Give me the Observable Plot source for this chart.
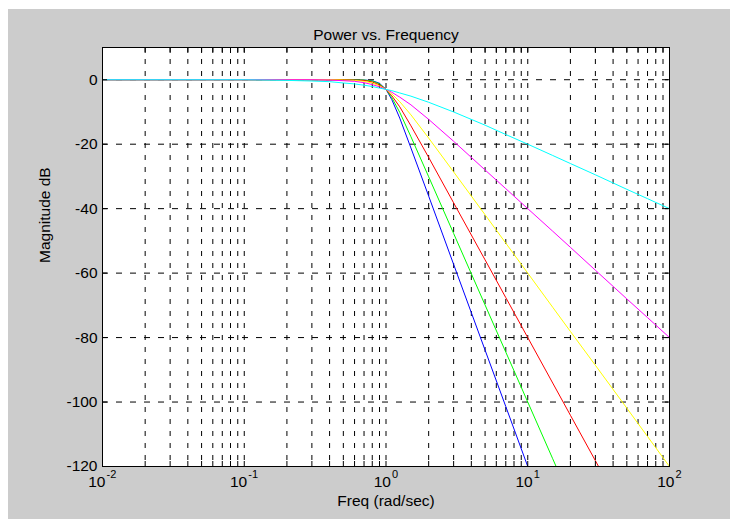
<!DOCTYPE html>
<html><head><meta charset="utf-8">
<script src="https://cdn.jsdelivr.net/npm/d3@7"></script>
<script src="https://cdn.jsdelivr.net/npm/@observablehq/plot@0.6"></script>
<style>
html,body{margin:0;padding:0;background:#fff;width:730px;height:519px;overflow:hidden}
#chart{position:absolute;left:8px;top:9px;}
</style></head><body><div id="chart"></div>
<script>
const titleText = "Power vs. Frequency";
const xLabel = "Freq (rad/sec)";
const yLabel = "Magnitude dB";

// frequency samples (rad/sec)
const freq = [0.01, 0.1, 0.2, 0.3, 0.4, 0.5, 0.6, 0.7, 0.8, 0.9, 1, 1.1, 1.25, 1.5, 2, 3, 5, 7, 10, 15, 20, 30, 50, 70, 100];
// magnitude (dB) read for each curve
const cyanDb    = [0, 0, -0.2, -0.4, -0.6, -1.0, -1.3, -1.7, -2.1, -2.6, -3.0, -3.4, -4.1, -5.1, -7.0, -10.0, -14.1, -17.0, -20.0, -23.5, -26.0, -29.5, -34.0, -36.9, -40.0];
const magentaDb = [0, 0, 0, 0, -0.1, -0.3, -0.5, -0.9, -1.5, -2.2, -3.0, -3.9, -5.4, -7.8, -12.3, -19.1, -28.0, -33.8, -40.0, -47.0, -52.0, -59.1, -68.0, -73.8, -80.0];
const yellowDb  = [0, 0, 0, 0, 0, -0.1, -0.2, -0.5, -1.0, -1.9, -3.0, -4.4, -6.8, -10.9, -18.1, -28.6, -41.9, -50.7, -60.0, -70.6, -78.1, -88.6, -101.9, -110.7, -120.0];
const redDb     = [0, 0, 0, 0, 0, 0, -0.1, -0.2, -0.7, -1.6, -3.0, -5.0, -8.4, -14.3, -24.1, -38.2, -55.9, -67.6, -80.0, -94.1, -104.1, -118.2, -135.9, null, null];
const greenDb   = [0, 0, 0, 0, 0, 0, 0, -0.1, -0.4, -1.3, -3.0, -5.6, -10.1, -17.7, -30.1, -47.7, -69.9, -84.5, -100.0, -117.6, -130.1, null, null, null, null];
const blueDb    = [0, 0, 0, 0, 0, 0, 0, -0.1, -0.3, -1.1, -3.0, -6.2, -11.9, -21.2, -36.1, -57.3, -83.9, -101.4, -120.0, null, null, null, null, null, null];

const seriesNames = ["order 6", "order 5", "order 4", "order 3", "order 2", "order 1"];
const seriesColors = ["#0000ff", "#00ff00", "#ff0000", "#ffff00", "#ff00ff", "#00ffff"];
const seriesValues = [blueDb, greenDb, redDb, yellowDb, magentaDb, cyanDb];

const majorTicks = [0.01, 0.1, 1, 10, 100];
const majorExponents = ["-2", "-1", "0", "1", "2"];
const minorTicks = [0.02, 0.03, 0.04, 0.05, 0.06, 0.07, 0.08, 0.09,
                    0.2, 0.3, 0.4, 0.5, 0.6, 0.7, 0.8, 0.9,
                    2, 3, 4, 5, 6, 7, 8, 9,
                    20, 30, 40, 50, 60, 70, 80, 90];
const yTicks = [-120, -100, -80, -60, -40, -20, 0];

const rows = [];
seriesNames.forEach((s, k) => {
  seriesValues[k].forEach((v, i) => { if (v !== null) rows.push({s, f: freq[i], db: v}); });
});
const allXTicks = majorTicks.concat(minorTicks);
const majorLabels = majorTicks.map((v, i) => ({v, e: majorExponents[i]}));
const neg = d => d.e.startsWith("-");
const pos = d => !d.e.startsWith("-");

const chart = Plot.plot({
  width: 722, height: 510,
  marginLeft: 94, marginRight: 61, marginTop: 38, marginBottom: 53,
  style: {background: "#cccccc", fontFamily: "'Liberation Sans', Arial, sans-serif", fontSize: "15.5px", color: "#000"},
  x: {type: "log", domain: [0.01, 100]},
  y: {domain: [-120, 10]},
  color: {type: "ordinal", domain: seriesNames, range: seriesColors},
  marks: [
    Plot.frame({fill: "white", stroke: "none"}),
    Plot.gridX(allXTicks, {stroke: "#000", strokeOpacity: 1, strokeDasharray: "5,7"}),
    Plot.gridY(yTicks, {stroke: "#000", strokeOpacity: 1, strokeDasharray: "6,8"}),
    Plot.line(rows, {x: "f", y: "db", z: "s", stroke: "s", strokeWidth: 1, clip: true}),
    Plot.axisX({ticks: allXTicks, anchor: "bottom", tickSize: -5, tickFormat: () => "", label: null}),
    Plot.axisX({ticks: allXTicks, anchor: "top", tickSize: -5, tickFormat: () => "", label: null}),
    Plot.axisY({ticks: yTicks, anchor: "right", tickSize: -5, tickFormat: () => "", label: null}),
    Plot.axisY({ticks: yTicks, anchor: "left", tickSize: -5, tickFormat: () => "", label: null}),
    Plot.axisY({ticks: yTicks, anchor: "left", tickSize: 0, tickPadding: 5, tickFormat: d => String(d), label: null}),
    Plot.frame({stroke: "#000", strokeWidth: 1}),
    Plot.text(majorLabels, {x: "v", text: () => "10", filter: neg, frameAnchor: "bottom", textAnchor: "end", dx: 3, dy: 20}),
    Plot.text(majorLabels, {x: "v", text: "e", filter: neg, frameAnchor: "bottom", textAnchor: "start", dx: 4, dy: 11, fontSize: 11}),
    Plot.text(majorLabels, {x: "v", text: () => "10", filter: pos, frameAnchor: "bottom", textAnchor: "end", dx: 5, dy: 20}),
    Plot.text(majorLabels, {x: "v", text: "e", filter: pos, frameAnchor: "bottom", textAnchor: "start", dx: 6, dy: 11, fontSize: 11}),
    Plot.text([titleText], {text: d => d, frameAnchor: "top", dy: -19}),
    Plot.text([xLabel], {text: d => d, frameAnchor: "bottom", dy: 39}),
    Plot.text([yLabel], {text: d => d, frameAnchor: "left", dx: -57, dy: 6, rotate: -90})
  ]
});
document.getElementById("chart").appendChild(chart);
</script></body></html>
